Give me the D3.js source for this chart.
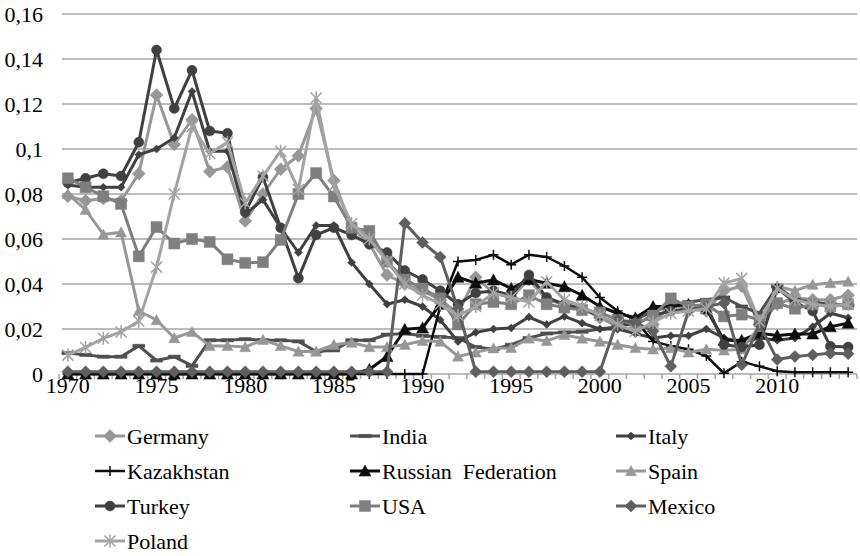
<!DOCTYPE html>
<meta charset="utf-8">
<style>
body { margin: 0; background: #fff; }
text { font-family: "Liberation Serif", "Times New Roman", "DejaVu Serif", serif; fill: #000; }
.grid line { stroke: #a6a6a6; stroke-width: 1.6px; }
.series path.line { fill: none; stroke-linejoin: round; }
</style>
<svg width="860" height="556"></svg>
<script src="https://d3js.org/d3.v7.min.js"></script>
<script>

// years on the category axis
var years = d3.range(1970, 2015);
var yearLabels = [1970, 1975, 1980, 1985, 1990, 1995, 2000, 2005, 2010];
var yTicks = [0, 0.02, 0.04, 0.06, 0.08, 0.1, 0.12, 0.14, 0.16];
var yTickLabels = ["0", "0,02", "0,04", "0,06", "0,08", "0,1", "0,12", "0,14", "0,16"];

// series values 1970..2014
var germany = [0.079,0.077,0.078,0.077,0.089, 0.124,0.102,0.113,0.090,0.092,
  0.068,0.080,0.091,0.097,0.118, 0.086,0.065,0.058,0.044,0.040,
  0.037,0.033,0.027,0.043,0.036, 0.034,0.042,0.033,0.031,0.029,
  0.025,0.021,0.019,0.022,0.031, 0.029,0.028,0.037,0.039,0.022,
  0.031,0.034,0.033,0.033,0.035];
var india = [0.0093,0.0085,0.0077,0.0077,0.0125, 0.006,0.0077,0.0036,0.015,0.015,
  0.0155,0.015,0.015,0.0145,0.010, 0.0105,0.015,0.015,0.0175,0.018,
  0.017,0.0165,0.016,0.012,0.011, 0.013,0.016,0.018,0.0185,0.0188,
  0.020,0.021,0.024,0.028,0.030, 0.032,0.033,0.034,0.030,0.027,
  0.039,0.033,0.032,0.031,0.0305];
var italy = [0.084,0.083,0.083,0.083,0.0975, 0.100,0.105,0.1256,0.099,0.099,
  0.071,0.0775,0.065,0.054,0.066, 0.066,0.0496,0.040,0.031,0.033,
  0.030,0.024,0.0144,0.0185,0.020, 0.0205,0.0253,0.022,0.0256,0.0226,
  0.020,0.020,0.018,0.016,0.017, 0.017,0.020,0.016,0.014,0.016,
  0.015,0.016,0.021,0.027,0.025];
var kazakhstan = [0,0,0,0,0, 0,0,0,0,0,
  0,0,0,0,0, 0,0,0,0,0,
  0,0.030,0.050,0.0507,0.053, 0.0486,0.053,0.052,0.048,0.043,
  0.034,0.028,0.024,0.0145,0.0125, 0.011,0.008,0.0003,0.0055,0.0034,
  0.0012,0.0008,0.0008,0.0008,0.0008];
var russia = [0,0,0,0,0, 0,0,0,0,0,
  0,0,0,0,0, 0,0,0.002,0.0078,0.0199,
  0.0205,0.031,0.043,0.0404,0.0418, 0.038,0.042,0.0404,0.0388,0.035,
  0.030,0.027,0.025,0.030,0.030, 0.031,0.029,0.015,0.015,0.0182,
  0.0171,0.0178,0.0178,0.021,0.0226];
var spain = [0.080,0.073,0.062,0.063,0.028, 0.024,0.016,0.0187,0.0125,0.0125,
  0.012,0.0152,0.0125,0.010,0.010, 0.013,0.014,0.012,0.012,0.013,
  0.0148,0.0144,0.0078,0.0096,0.0114, 0.0116,0.0158,0.0147,0.0174,0.0158,
  0.0144,0.013,0.0116,0.011,0.0115, 0.0096,0.011,0.0105,0.011,0.021,
  0.039,0.037,0.0397,0.0404,0.0411];
var turkey = [0.085,0.087,0.089,0.088,0.103, 0.144,0.118,0.135,0.108,0.107,
  0.072,0.0875,0.065,0.0426,0.0618, 0.065,0.0618,0.0577,0.054,0.046,
  0.042,0.037,0.031,0.036,0.037, 0.035,0.044,0.034,0.031,0.029,
  0.026,0.022,0.022,0.026,0.028, 0.029,0.031,0.013,0.012,0.013,
  0.038,0.032,0.028,0.0123,0.012];
var usa = [0.087,0.083,0.079,0.0756,0.0523, 0.0653,0.058,0.060,0.0587,0.051,
  0.0494,0.0497,0.0596,0.080,0.0893, 0.0789,0.065,0.0636,0.050,0.042,
  0.038,0.0336,0.022,0.031,0.032, 0.031,0.035,0.031,0.0295,0.0284,
  0.0274,0.024,0.022,0.026,0.0336, 0.030,0.031,0.0256,0.0264,0.024,
  0.0315,0.029,0.031,0.030,0.031];
var mexico = [0.001,0.001,0.001,0.001,0.001, 0.001,0.001,0.001,0.001,0.001,
  0.001,0.001,0.001,0.001,0.001, 0.001,0.001,0.001,0.001,0.067,
  0.0585,0.052,0.029,0.001,0.001, 0.001,0.001,0.001,0.001,0.001,
  0.001,0.024,0.023,0.019,0.0034, 0.028,0.030,0.0315,0.0041,0.022,
  0.0064,0.0078,0.0085,0.0092,0.009];
var poland = [0.0084,0.0118,0.0159,0.0187,0.0235, 0.0475,0.080,0.110,0.098,0.103,
  0.076,0.088,0.099,0.082,0.1227, 0.0836,0.0668,0.060,0.050,0.040,
  0.035,0.031,0.026,0.030,0.036, 0.034,0.032,0.041,0.033,0.030,
  0.026,0.022,0.019,0.023,0.027, 0.028,0.029,0.0404,0.0425,0.0233,
  0.038,0.033,0.031,0.030,0.031];

var seriesNames = ["Germany", "India", "Italy", "Kazakhstan", "Russian  Federation",
                   "Spain", "Turkey", "USA", "Mexico", "Poland"];
var seriesValues = [germany, india, italy, kazakhstan, russia, spain, turkey, usa, mexico, poland];

// look of each series
var styles = [
  {color: "#979797", width: 3,   marker: "diamond",  size: 6.5},
  {color: "#4f4f4f", width: 3,   marker: "dash",     size: 6},
  {color: "#404040", width: 3,   marker: "diamond",  size: 4},
  {color: "#0d0d0d", width: 2.5, marker: "plus",     size: 5},
  {color: "#0d0d0d", width: 3,   marker: "triangle", size: 6},
  {color: "#979797", width: 3,   marker: "triangle", size: 5.5},
  {color: "#404040", width: 3,   marker: "circle",   size: 5},
  {color: "#7f7f7f", width: 3,   marker: "square",   size: 5.5},
  {color: "#5f5f5f", width: 3,   marker: "diamond",  size: 6},
  {color: "#a3a3a3", width: 3,   marker: "star",     size: 5.5}
];

var svg = d3.select("svg");
var plotLeft = 59, plotRight = 857, plotTop = 14, plotBottom = 374;
var serif = "Liberation Serif";

var x = d3.scaleBand().domain(years).range([plotLeft, plotRight]);
var xc = function(yr) { return x(yr) + x.bandwidth() / 2; };
var y = d3.scaleLinear().domain([0, 0.16]).range([plotBottom, plotTop]);

//gridlines
svg.append("g").attr("class", "grid")
  .selectAll("line").data(yTicks).enter().append("line")
  .attr("x1", plotLeft + 3).attr("x2", plotRight)
  .attr("y1", function(d) { return y(d); })
  .attr("y2", function(d) { return y(d); });

// y labels
var yAxis = d3.axisLeft(y).tickValues(yTicks)
  .tickFormat(function(d, i) { return yTickLabels[i]; })
  .tickSize(0).tickPadding(0);
var gy = svg.append("g").attr("transform", "translate(43,0)").call(yAxis);
gy.attr("font-family", serif);
gy.select(".domain").remove();
gy.selectAll("text").attr("font-size", 22).attr("font-family", serif);

// tick marks between categories
var bounds = years.map(function(d) { return x(d); }).concat([plotRight]);
svg.append("g").selectAll("line").data(bounds).enter().append("line")
  .attr("x1", function(d) { return d; }).attr("x2", function(d) { return d; })
  .attr("y1", plotBottom).attr("y2", plotBottom + 5)
  .attr("stroke", "#a6a6a6").attr("stroke-width", 1.5);

// x labels
var xAxis = d3.axisBottom(x).tickValues(yearLabels).tickSize(0).tickPadding(0);
var gx = svg.append("g").attr("transform", "translate(0," + (plotBottom + 3) + ")").call(xAxis);
gx.attr("font-family", serif);
gx.select(".domain").remove();
gx.selectAll("text").attr("font-size", 22).attr("font-family", serif);

function markerPath(type, s) {
  if (type == "diamond") return "M0," + (-s) + "L" + s + ",0L0," + s + "L" + (-s) + ",0Z";
  if (type == "square") return "M" + (-s) + "," + (-s) + "h" + 2 * s + "v" + 2 * s + "h" + (-2 * s) + "Z";
  if (type == "triangle") return "M0," + (-s) + "L" + s + "," + (s * 0.85) + "L" + (-s) + "," + (s * 0.85) + "Z";
  if (type == "circle") return d3.symbol(d3.symbolCircle, Math.PI * s * s)();
  if (type == "dash") return "M" + (-s) + ",-1.6h" + 2 * s + "v3.2h" + (-2 * s) + "Z";
  if (type == "plus") return "M" + (-s) + ",0H" + s + "M0," + (-s) + "V" + s;
  if (type == "star") return "M" + (-s) + "," + (-s) + "L" + s + "," + s + "M" + (-s) + "," + s + "L" + s + "," + (-s) + "M0," + (-s * 1.2) + "V" + (s * 1.2);
}

function drawMarker(sel, st) {
  var open = st.marker == "plus" || st.marker == "star";
  sel.attr("d", markerPath(st.marker, st.size))
    .attr("fill", open ? "none" : st.color)
    .attr("stroke", st.color)
    .attr("stroke-width", open ? 1.5 : 0.5);
}

var line = d3.line()
  .x(function(d, i) { return xc(years[i]); })
  .y(function(d) { return y(d); });

seriesValues.forEach(function(vals, k) {
  var st = styles[k];
  var g = svg.append("g").attr("class", "series");
  g.append("path").attr("class", "line").datum(vals)
    .attr("d", line).attr("stroke", st.color).attr("stroke-width", st.width);
  g.selectAll("path.mk").data(vals).enter().append("path").attr("class", "mk")
    .attr("transform", function(d, i) { return "translate(" + xc(years[i]) + "," + y(d) + ")"; })
    .call(drawMarker, st);
});

// legend, three columns
var legendTextX = [127, 382, 648];
var legend = svg.append("g");
seriesNames.forEach(function(name, k) {
  var st = styles[k];
  var col = k % 3, row = Math.floor(k / 3);
  var tx = legendTextX[col], ly = 436 + row * 35;
  var item = legend.append("g").attr("transform", "translate(" + tx + "," + ly + ")");
  item.append("line").attr("x1", -32).attr("x2", -2).attr("y1", 0).attr("y2", 0)
    .attr("stroke", st.color).attr("stroke-width", st.width);
  item.append("path").attr("transform", "translate(-17,0)").call(drawMarker, st);
  item.append("text").attr("x", 0).attr("y", 0).attr("dy", "0.35em")
    .attr("font-size", 22).attr("font-family", serif)
    .text(name).style("white-space", "pre");
});

</script>
